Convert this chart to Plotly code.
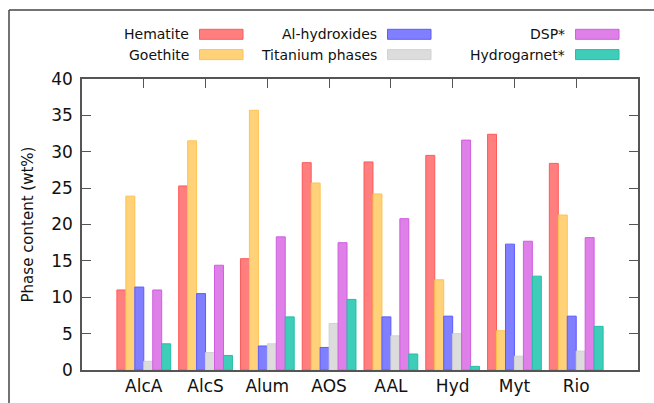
import plotly.graph_objects as go

# Samples on the x axis
samples = ["AlcA", "AlcS", "Alum", "AOS", "AAL", "Hyd", "Myt", "Rio"]

# Phase content (wt%) for each phase, one value per sample
hematite = [11.0, 25.3, 15.3, 28.5, 28.6, 29.5, 32.4, 28.4]
goethite = [23.9, 31.5, 35.7, 25.7, 24.2, 12.4, 5.4, 21.3]
al_hydroxides = [11.4, 10.5, 3.3, 3.1, 7.3, 7.4, 17.3, 7.4]
titanium = [1.2, 2.4, 3.6, 6.4, 4.7, 5.0, 1.9, 2.6]
dsp = [11.0, 14.4, 18.3, 17.5, 20.8, 31.6, 17.7, 18.2]
hydrogarnet = [3.6, 2.0, 7.3, 9.7, 2.2, 0.5, 12.9, 6.0]

series_names = ["Hematite", "Goethite", "Al-hydroxides", "Titanium phases", "DSP*", "Hydrogarnet*"]
series_values = [hematite, goethite, al_hydroxides, titanium, dsp, hydrogarnet]
fill_colors = ["#ff7f7f", "#ffd27a", "#7f7fff", "#dcdcdc", "#df7fe8", "#3ecdb8"]
edge_colors = ["#ff5a5a", "#ffc24f", "#5c5cff", "#d2d2d2", "#cf5ee0", "#22bfa6"]

W, H = 654, 403
L, R, T, B = 82, 16, 79, 33
PW, PH = W - L - R, H - T - B

def px_x(x):
    return (x - L) / PW

def px_y(y):
    return (H - B - y) / PH

fig = go.Figure()
for name, vals, fc, ec in zip(series_names, series_values, fill_colors, edge_colors):
    fig.add_trace(go.Bar(
        x=samples, y=vals, name=name,
        marker=dict(color=fc, line=dict(color=ec, width=1)),
        showlegend=False,
    ))

font = "DejaVu Sans"

# Legend: label right-aligned, colour swatch to its right, 3 columns x 2 rows
col_swatch_left = [199.5, 387.5, 575.5]
swatch_w = 43.5
row_center = [34.3, 54.6]
swatch_h = 10
annotations = []
shapes = []
for i, (name, fc, ec) in enumerate(zip(series_names, fill_colors, edge_colors)):
    col, row = i // 2, i % 2
    x0 = col_swatch_left[col]
    yc = row_center[row]
    shapes.append(dict(
        type="rect", xref="paper", yref="paper",
        x0=px_x(x0), x1=px_x(x0 + swatch_w),
        y0=px_y(yc + swatch_h / 2), y1=px_y(yc - swatch_h / 2),
        fillcolor=fc, line=dict(color=ec, width=1), layer="above",
    ))
    annotations.append(dict(
        text=name, xref="paper", yref="paper",
        x=px_x(x0 - 8.5), y=px_y(yc), xanchor="right", yanchor="middle",
        showarrow=False, font=dict(family=font, size=14, color="#111"),
    ))

# Outer frame along the top and left edges
shapes.append(dict(type="line", xref="paper", yref="paper",
                   x0=px_x(9), x1=px_x(W + 5), y0=px_y(10), y1=px_y(10),
                   line=dict(color="#444", width=1.5)))
shapes.append(dict(type="line", xref="paper", yref="paper",
                   x0=px_x(9), x1=px_x(9), y0=px_y(10), y1=px_y(H + 5),
                   line=dict(color="#444", width=1.5)))

fig.update_layout(
    width=W, height=H,
    margin=dict(l=L, r=R, t=T, b=B, pad=0),
    paper_bgcolor="white", plot_bgcolor="white",
    barmode="group", bargap=0.13, bargroupgap=0.0,
    font=dict(family=font, size=16, color="#111"),
    annotations=annotations, shapes=shapes,
    showlegend=False,
)
fig.update_xaxes(
    type="category", range=[-1, 8], automargin=False,
    showline=True, linecolor="#555", linewidth=1.5, mirror="ticks",
    ticks="inside", ticklen=9, tickcolor="#555", tickwidth=1.2,
    showgrid=False, layer="below traces", ticklabelstandoff=0,
    tickfont=dict(family=font, size=17, color="#111"),
)
fig.update_yaxes(
    range=[0, 40], dtick=5, automargin=False,
    showline=True, linecolor="#555", linewidth=1.5, mirror="ticks",
    ticks="inside", ticklen=9, tickcolor="#555", tickwidth=1.2,
    showgrid=False, zeroline=False, ticklabelstandoff=4,
    tickfont=dict(family=font, size=17, color="#111"),
    title=dict(text="Phase content (wt%)", font=dict(family=font, size=15, color="#111"), standoff=14),
)

fig.write_html("out.html")
